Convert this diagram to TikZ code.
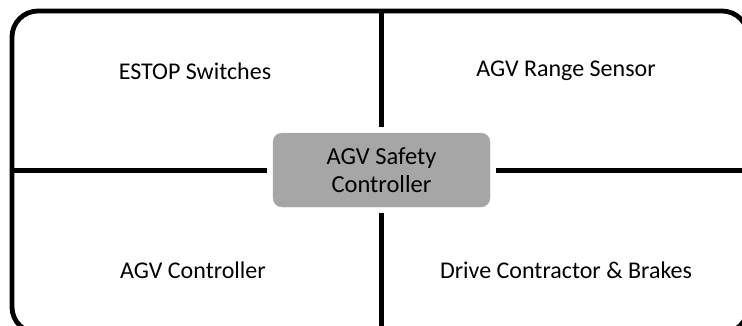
\documentclass[tikz,border=0pt]{standalone}
\usepackage{fontspec}
\setmainfont{Carlito}
\begin{document}
\begin{tikzpicture}[x=1pt,y=1pt,
  frame/.style={line width=4.8pt},
  divider/.style={line width=5pt},
  label/.style={font=\fontsize{24}{26}\selectfont, text=black, inner sep=0pt},
  centerbox/.style={fill=boxgray, draw=boxgray!90!white, rounded corners=9pt, minimum width=217pt, minimum height=74pt, inner sep=0pt, align=center, font=\fontsize{24.5}{28}\selectfont}
]
\definecolor{boxgray}{HTML}{A6A6A6}
\useasboundingbox (0,0) rectangle (742,-325);
\draw[frame, rounded corners=26pt] (12,-11) rectangle (748,-333);
\node[centerbox] (ctrl) at (381.5,-170) {AGV Safety\\Controller};
\coordinate (top) at (381,-11);
\coordinate (bot) at (381,-335);
\coordinate (left) at (12,-170);
\coordinate (right) at (748,-170);
\draw[divider] (top) -- ([yshift=6pt]ctrl.north -| top);
\draw[divider] ([yshift=-6pt]ctrl.south -| bot) -- (bot);
\draw[divider] (left) -- ([xshift=-6pt]ctrl.west |- left);
\draw[divider] ([xshift=6pt]ctrl.east |- right) -- (right);
\node[label] (estop) at (195,-71) {ESTOP Switches};
\node[label] (range) at (566,-71) {AGV Range Sensor};
\node[label] (agvc) at (193,-270) {AGV Controller};
\node[label] (drive) at (566,-270) {Drive Contractor \& Brakes};
\end{tikzpicture}
\end{document}
